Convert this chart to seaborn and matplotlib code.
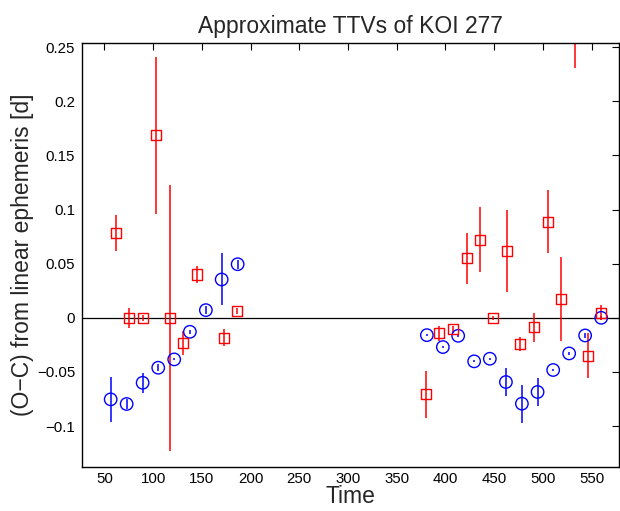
import numpy as np
import pandas as pd
import matplotlib
matplotlib.use("Agg")
import matplotlib.pyplot as plt
import seaborn as sns

# red squares: first transiting planet
red_t = [61.8, 75.5, 89.2, 103.2, 116.9, 130.9, 144.6, 172.3, 186.3,
         379.9, 393.5, 407.6, 421.6, 435.6, 448.9, 463.3, 476.6, 490.4,
         504.7, 518.4, 532.4, 546.1, 559.8]
red_oc = [0.0784, 0.0, 0.0, 0.1688, 0.0, -0.0236, 0.0400, -0.0184, 0.0065,
          -0.0707, -0.0144, -0.0107, 0.0548, 0.0720, 0.0, 0.0615, -0.0240, -0.0089,
          0.0886, 0.0175, 0.2700, -0.0350, 0.0046]
red_err = [0.0170, 0.0095, 0.0030, 0.0725, 0.1230, 0.0110, 0.0077, 0.0077, 0.0030,
           0.0220, 0.0073, 0.0030, 0.0235, 0.0300, 0.0020, 0.0380, 0.0065, 0.0130,
           0.0290, 0.0390, 0.0390, 0.0210, 0.0070]

# blue circles: second transiting planet
blue_t = [56.4, 72.8, 89.2, 105.2, 121.6, 137.7, 154.1, 170.3, 186.7,
          380.9, 397.3, 413.0, 429.4, 445.5, 462.0, 478.4, 494.5, 510.5,
          526.9, 543.3, 559.8]
blue_oc = [-0.0753, -0.0796, -0.0600, -0.0461, -0.0384, -0.0129, 0.0071, 0.0354, 0.0495,
           -0.0160, -0.0270, -0.0166, -0.0402, -0.0378, -0.0593, -0.0793, -0.0685, -0.0482,
           -0.0329, -0.0163, 0.0]
blue_err = [0.0210, 0.0050, 0.0090, 0.0030, 0.0010, 0.0020, 0.0040, 0.0240, 0.0040,
            0.0010, 0.0010, 0.0010, 0.0010, 0.0010, 0.0126, 0.0177, 0.0130, 0.0010,
            0.0010, 0.0020, 0.0020]

red = pd.DataFrame({"t": red_t, "oc": red_oc, "err": red_err})
blue = pd.DataFrame({"t": blue_t, "oc": blue_oc, "err": blue_err})

sns.set_theme(style="white")
plt.rcParams["font.family"] = ["Liberation Sans", "DejaVu Sans"]

fig = plt.figure(figsize=(6.2, 5.11), dpi=100)
ax = fig.add_axes([0.1323, 0.0867, 0.866, 0.830])

ax.axhline(0, color="black", lw=0.9, zorder=1)

ax.errorbar(blue["t"], blue["oc"], yerr=blue["err"], fmt="none", ecolor="blue", elinewidth=1.1, zorder=2)
ax.errorbar(red["t"], red["oc"], yerr=red["err"], fmt="none", ecolor="red", elinewidth=1.1, zorder=2)

sns.scatterplot(data=blue, x="t", y="oc", ax=ax, marker="o", s=80, facecolor="none",
                edgecolor="blue", linewidth=1.0, zorder=3)
sns.scatterplot(data=red, x="t", y="oc", ax=ax, marker="s", s=52, facecolor="none",
                edgecolor="red", linewidth=1.0, zorder=3)

ax.set_xlim(27, 578)
ax.set_ylim(-0.1375, 0.2542)
ax.set_xticks(np.arange(50, 551, 50))
ax.set_yticks([-0.1, -0.05, 0, 0.05, 0.1, 0.15, 0.2, 0.25])
ax.set_yticklabels(["\u22120.1", "\u22120.05", "0", "0.05", "0.1", "0.15", "0.2", "0.25"])

for s in ax.spines.values():
    s.set_visible(True)
    s.set_color("black")
    s.set_linewidth(1.0)
ax.tick_params(direction="in", length=5, width=0.8, top=True, right=True,
               labelsize=10.8, colors="black")
ax.tick_params(axis="x", pad=4)
ax.tick_params(axis="y", pad=5)

ax.set_xlabel("Time", fontsize=16.5, labelpad=-1)
ax.set_ylabel("(O\u2212C) from linear ephemeris [d]", fontsize=16.5, labelpad=2)
ax.set_title("Approximate TTVs of KOI 277", fontsize=16.5, pad=7)

fig.savefig("out.png", dpi=100)
